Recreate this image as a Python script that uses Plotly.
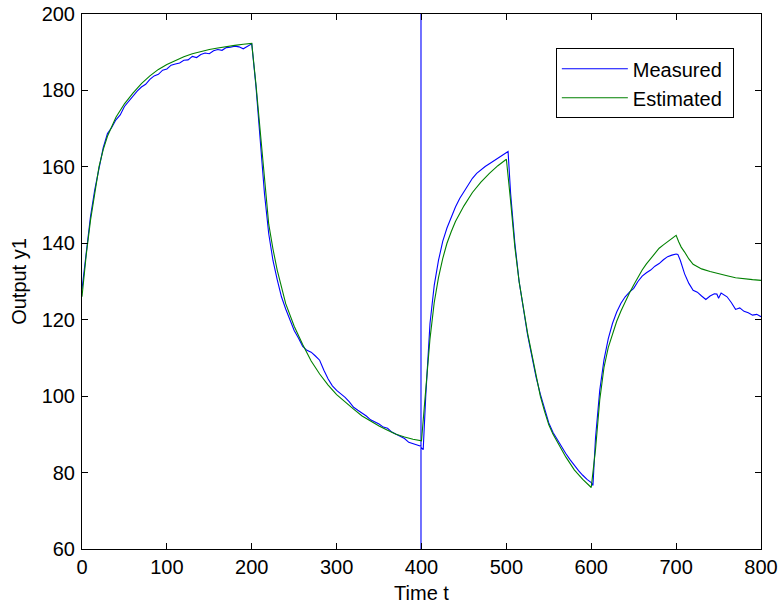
import plotly.graph_objects as go

# ---------------- data ----------------
# Estimated output (model simulation)
est_t = [0, 5, 10, 15, 20, 25, 30, 40, 50, 60, 70, 80, 90, 100, 110, 120, 130, 140, 150, 160, 170, 180, 190, 200,
         205, 210, 215, 220, 225, 230, 240, 250, 260, 270, 280, 290, 300, 310, 320, 330, 340, 350, 360, 370, 380, 390, 400,
         405, 410, 415, 420, 425, 430, 435, 440, 450, 460, 470, 480, 490, 500,
         505, 510, 515, 520, 525, 530, 535, 540, 545, 550, 555, 560, 570, 580, 590, 600,
         605, 610, 615, 620, 625, 630, 635, 640, 645, 650, 655, 660, 665, 670, 675, 680, 685, 690, 695, 700,
         703, 706, 710, 715, 720, 725, 730, 740, 750, 760, 770, 780, 790, 800]
est_y = [126, 137, 146, 153.5, 160, 164.5, 168, 173, 176.5, 179.3, 181.8, 183.8, 185.5, 186.8, 187.9, 188.8, 189.6, 190.2, 190.7, 191.1, 191.5, 191.8, 192.1, 192.3,
         181.5, 169, 155.5, 145, 138.5, 133, 124.2, 118.3, 113.5, 109.2, 105.8, 102.9, 100.4, 98.4, 96.6, 94.8, 93.4, 92.2, 91.1, 90.0, 89.3, 88.7, 88.3,
         101, 115, 124.5, 131, 136, 140, 143, 145.7, 149.8, 153.3, 156, 158.3, 160.3, 162,
         151, 139, 130, 123, 116.5, 111, 105.5, 100, 96, 92.5, 90, 87.9, 84.1, 80.7, 78.2, 76.1,
         86, 99, 107.5, 112.7, 116.5, 119.6, 122.3, 124.8, 127, 129.1, 131.1, 133, 134.6, 136, 137.4, 138.7, 139.6, 140.4, 141.3, 142.1,
         140.4, 139, 137.7, 135.9, 134.5, 133.8, 133.3, 132.6, 132.0, 131.5, 131.0, 130.7, 130.5, 130.3]

# Measured output (includes the glitch samples near t = 400)
meas_t = [0, 5, 10, 15, 20, 25, 30, 35, 40, 45, 50, 55, 60, 65, 70, 75, 80, 85, 90, 95, 100,
          105, 110, 115, 120, 125, 130, 135, 140, 145, 150, 155, 160, 165, 170, 175, 180, 185, 190, 195, 200,
          205, 210, 215, 220, 225, 230, 235, 240, 245, 250, 255, 260, 265, 270, 275, 280, 285, 290, 295, 300,
          305, 310, 315, 320, 325, 330, 335, 340, 345, 350, 355, 360, 365, 370, 375, 380, 385, 390, 395, 399.4,
          399.4, 399.4, 399.4, 402,
          405, 410, 415, 420, 425, 430, 435, 440, 445, 450, 455, 460, 465, 470, 475, 480, 485, 490, 495, 500, 502,
          505, 510, 515, 520, 525, 530, 535, 540, 545, 550, 555, 560, 565, 570, 575, 580, 585, 590, 595, 600, 602,
          605, 610, 615, 620, 625, 630, 635, 640, 645, 650, 655, 660, 665, 670, 675, 680, 685, 690, 695, 700, 702,
          705, 710, 715, 720, 725, 730, 735, 740, 745, 748, 750, 753, 760, 765, 770, 775, 780, 785, 790, 795, 800]
meas_y = [128, 138, 147, 154, 160, 165, 168.7, 170.3, 172.3, 173.6, 175.8, 177.2, 178.6, 179.8, 180.9, 181.6, 182.9, 183.8, 184.2, 185.3, 185.6,
          186.6, 186.9, 187.2, 187.9, 188.0, 188.9, 188.6, 189.4, 189.8, 189.6, 190.4, 190.7, 190.5, 191.2, 191.3, 191.6, 191.4, 190.9, 191.6, 192.2,
          181, 166, 153, 142.5, 135.5, 130.5, 126, 122.8, 119.8, 117.2, 115.2, 113.0, 112.0, 111.5, 110.5, 109.4, 106.8, 104.5, 102.7, 101.5,
          100.6, 99.7, 98.5, 97.1, 96.3, 95.6, 94.8, 93.8, 93.3, 92.7, 91.9, 91.6, 90.6, 90.0, 89.4, 88.9, 87.9, 87.6, 87.3, 86.9,
          260, -60, 86.6, 86.0,
          100, 119, 129, 135.5, 140.5, 144, 147, 149.5, 151.7, 153.5, 155.4, 157, 158.3, 159.3, 160.1, 160.8, 161.5, 162.2, 162.9, 163.5, 164.0,
          153, 140, 130, 122.5, 116, 110.5, 105, 100.5, 96.5, 93, 90.5, 88.6, 86.8, 85, 83.4, 81.8, 80.5, 79.3, 78.2, 77.4, 76.6,
          89, 101.5, 109.5, 115, 119, 122, 124.3, 126, 127.2, 128.2, 130, 131.4, 132.3, 133, 134, 134.7, 135.7, 136.5, 136.9, 137.2, 137.1,
          135.5, 132, 129.5, 127.7, 127.2, 126.2, 125.3, 126.2, 126.8, 126.7, 125.6, 127.0, 126.0, 124.5, 122.7, 123.1, 122.2, 121.8, 121.2, 121.4, 120.8]

series_names = ["Measured", "Estimated"]
x_ticks = [0, 100, 200, 300, 400, 500, 600, 700, 800]
y_ticks = [60, 80, 100, 120, 140, 160, 180, 200]

FONT = "Liberation Sans, Arial, Helvetica, sans-serif"
PAD = "\u00a0"

fig = go.Figure()
fig.add_trace(go.Scatter(x=meas_t, y=meas_y, mode="lines", name=series_names[0] + PAD,
                         line=dict(color="#0000ff", width=1.1)))
fig.add_trace(go.Scatter(x=est_t, y=est_y, mode="lines", name=series_names[1] + PAD,
                         line=dict(color="#008000", width=1.1)))

axis_common = dict(
    showgrid=False, zeroline=False, showline=True, linecolor="black", linewidth=1,
    mirror="allticks", ticks="inside", ticklen=6, tickcolor="black", tickwidth=1,
    tickfont=dict(family=FONT, size=20, color="black"), automargin=False,
)

fig.update_layout(
    width=782, height=607,
    margin=dict(l=82, r=21, t=14, b=58),
    paper_bgcolor="white", plot_bgcolor="white",
    font=dict(family=FONT, size=20, color="black"),
    xaxis=dict(range=[0, 800], tickvals=x_ticks, ticktext=[str(v) for v in x_ticks],
               title=dict(text="Time t", font=dict(family=FONT, size=20), standoff=8),
               **axis_common),
    yaxis=dict(range=[60, 200], tickvals=y_ticks, ticktext=[str(v) for v in y_ticks],
               title=dict(text="Output y1", font=dict(family=FONT, size=20), standoff=9),
               ticklabelstandoff=2,
               **axis_common),
    legend=dict(x=0.960, xanchor="right", y=0.936, yanchor="top",
                bgcolor="white", bordercolor="black", borderwidth=1,
                font=dict(family=FONT, size=20, color="black"),
                itemwidth=66),
    showlegend=True,
)

fig.write_html("out.html")
